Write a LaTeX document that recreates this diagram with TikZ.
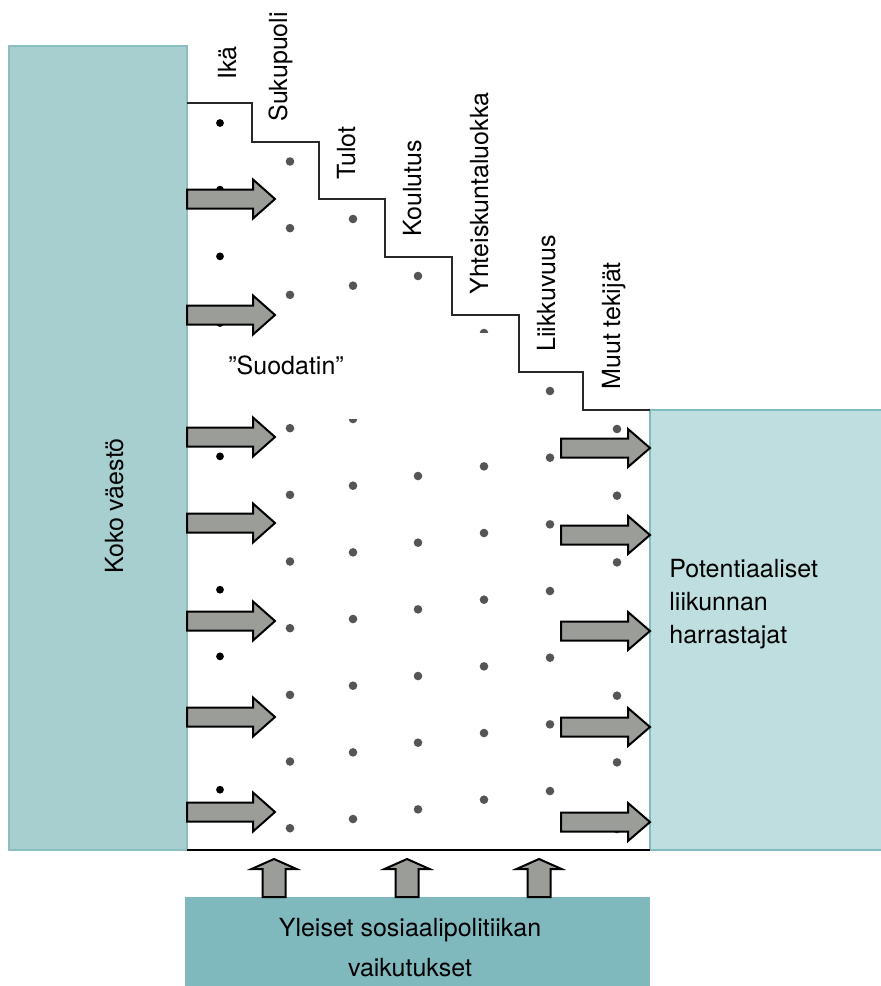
\documentclass[tikz,border=0pt]{standalone}
\usepackage{fontspec}
\setmainfont{TeX Gyre Heros}
\usepackage{tikz}

\begin{document}
\begin{tikzpicture}[x=0.5pt,y=0.5pt,yscale=-1,xscale=1,
  every node/.style={inner sep=0pt, font=\fontsize{12.5}{16.5}\selectfont},
  factorlabel/.style={rotate=90, anchor=base west},
  blockarrow/.style={fill={rgb, 255:red, 154; green, 157; blue, 152 }, draw=black, line width=1pt, line join=miter},
  graydot/.style={fill={rgb, 255:red, 85; green, 85; blue, 85 }},
  blackdot/.style={fill=black}
]
\useasboundingbox (0,0) rectangle (881,986);

%Shape: Rectangle
\draw [color={rgb, 255:red, 140; green, 190; blue, 193 }, fill={rgb, 255:red, 167; green, 207; blue, 208 }, line width=0.75]  (9,46) rectangle (187,850) ;
%Shape: Rectangle
\draw [color={rgb, 255:red, 128; green, 188; blue, 192 }, fill={rgb, 255:red, 191; green, 222; blue, 223 }, line width=1]  (650,410) rectangle (882,850) ;
%Shape: Rectangle
\fill [color={rgb, 255:red, 128; green, 185; blue, 189 }]  (185,897) rectangle (650,987) ;

%Straight Lines
\draw [color={rgb, 255:red, 40; green, 40; blue, 40 }, line width=0.8]  (187,103) -- (252,103) -- (252,142) -- (319,142) -- (319,199) -- (385,199) -- (385,257) -- (452,257) -- (452,315) -- (519,315) -- (519,372) -- (583,372) -- (583,410) -- (650,410) ;
%Straight Lines
\draw [line width=0.9]  (187,850) -- (650,850) ;

%Dots
\foreach \k in {0,...,10}
  \fill [blackdot] (220,123+\k*66.67) circle (3.9);
\foreach \dx/\dy/\dn in {290/161.5/10, 353/219/9, 418/276/8, 484/333/7, 550/391/6, 617/429/6}
  \foreach \k in {0,...,\dn}
    \fill [graydot] (\dx,\dy+\k*66.67) circle (4.3);

%Shape: Rectangle
\fill [white]  (195,333) rectangle (515,419) ;

% Text Node
\draw (236,80) node (ika) [factorlabel] {Ikä};
% Text Node
\draw (287,122) node (sukupuoli) [factorlabel] {Sukupuoli};
% Text Node
\draw (355,180) node (tulot) [factorlabel] {Tulot};
% Text Node
\draw (421,237) node (koulutus) [factorlabel] {Koulutus};
% Text Node
\draw (488,295) node (luokka) [factorlabel] {Yhteiskuntaluokka};
% Text Node
\draw (555,352) node (liikkuvuus) [factorlabel] {Liikkuvuus};
% Text Node
\draw (620,390) node (muut) [factorlabel] {Muut tekijät};
% Text Node
\draw (228,374) node (suodatin) [anchor=base west] {”Suodatin”};
% Text Node
\draw (123,506) node (vaesto) [rotate=90, anchor=base] {Koko väestö};
% Text Node
\draw (669,643) node (harrastajat) [anchor=base west, align=left] {Potentiaaliset\\liikunnan\\harrastajat};
% Text Node
\draw (410,976) node (yleiset) [anchor=base, align=center, font=\fontsize{12.5}{20}\selectfont] {Yleiset sosiaalipolitiikan\\vaikutukset};

%Block Arrows
\foreach \ay in {199,315,437,523,621,717,812}
  \draw [blockarrow] (187,\ay-9.5) -- (253,\ay-9.5) -- (253,\ay-19.5) -- (275,\ay) -- (253,\ay+19.5) -- (253,\ay+9.5) -- (187,\ay+9.5) -- cycle ;
\foreach \ay in {448,535,631,727,822}
  \draw [blockarrow] (561,\ay-9.5) -- (628,\ay-9.5) -- (628,\ay-19) -- (650,\ay) -- (628,\ay+19) -- (628,\ay+9.5) -- (561,\ay+9.5) -- cycle ;
\foreach \ax in {274,407,539}
  \draw [blockarrow] (\ax-11.5,897) -- (\ax-11.5,869) -- (\ax-22.5,869) -- (\ax,859) -- (\ax+22.5,869) -- (\ax+11.5,869) -- (\ax+11.5,897) -- cycle ;

\end{tikzpicture}
\end{document}
